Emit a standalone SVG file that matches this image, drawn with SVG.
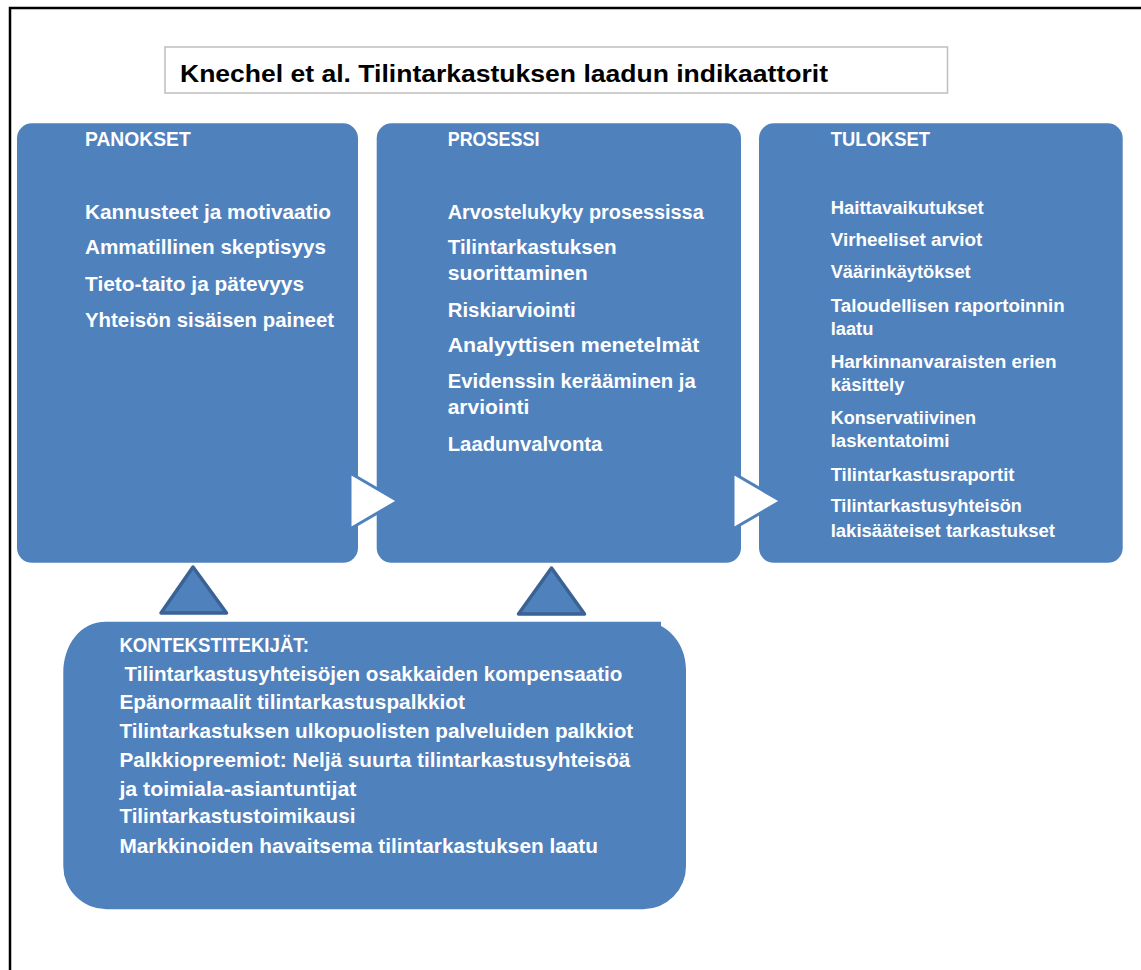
<svg xmlns="http://www.w3.org/2000/svg" width="1141" height="970" viewBox="0 0 1141 970">
<style>
.box{fill:#4f81bd;}
.t{font-family:"Liberation Sans",Arial,sans-serif;font-weight:bold;fill:#ffffff;font-size:20px;}
.s{font-size:18px;}
.k{font-size:21px;}
.title{font-family:"Liberation Sans",Arial,sans-serif;font-weight:bold;fill:#000000;font-size:23px;}
.rarr{fill:#ffffff;stroke:#4f81bd;stroke-width:3;}
.uarr{fill:#4f81bd;stroke:#3b6294;stroke-width:3.5;stroke-linejoin:round;}
</style>
<rect x="0" y="0" width="1141" height="970" fill="#ffffff"/>
<rect x="10" y="8" width="1200" height="1000" fill="none" stroke="#000000" stroke-width="2.5"/>
<g id="title">
<rect x="165" y="47" width="782.5" height="46" fill="#ffffff" stroke="#bfbfbf" stroke-width="1.5"/>
<text class="title" x="180" y="82" textLength="648" lengthAdjust="spacingAndGlyphs">Knechel et al. Tilintarkastuksen laadun indikaattorit</text>
</g>
<g id="panokset">
<rect class="box" x="17" y="123.3" width="341" height="439.5" rx="15"/>
<text class="t" x="85" y="145.7" textLength="105.7" lengthAdjust="spacingAndGlyphs">PANOKSET</text>
<text class="t" x="85" y="219" textLength="246" lengthAdjust="spacingAndGlyphs">Kannusteet ja motivaatio</text>
<text class="t" x="85" y="254" textLength="241" lengthAdjust="spacingAndGlyphs">Ammatillinen skeptisyys</text>
<text class="t" x="85" y="291" textLength="219" lengthAdjust="spacingAndGlyphs">Tieto-taito ja pätevyys</text>
<text class="t" x="85" y="326.7" textLength="249" lengthAdjust="spacingAndGlyphs">Yhteisön sisäisen paineet</text>
</g>
<g id="prosessi">
<rect class="box" x="376.7" y="123.3" width="364.3" height="439.5" rx="15"/>
<text class="t" x="447.7" y="145.7" textLength="91.7" lengthAdjust="spacingAndGlyphs">PROSESSI</text>
<text class="t" x="447.7" y="219" textLength="256" lengthAdjust="spacingAndGlyphs">Arvostelukyky prosessissa</text>
<text class="t" x="447.7" y="254" textLength="169" lengthAdjust="spacingAndGlyphs">Tilintarkastuksen</text>
<text class="t" x="447.7" y="280" textLength="140" lengthAdjust="spacingAndGlyphs">suorittaminen</text>
<text class="t" x="447.7" y="316.7" textLength="128" lengthAdjust="spacingAndGlyphs">Riskiarviointi</text>
<text class="t" x="447.7" y="351.7" textLength="251.7" lengthAdjust="spacingAndGlyphs">Analyyttisen menetelmät</text>
<text class="t" x="447.7" y="388.3" textLength="248" lengthAdjust="spacingAndGlyphs">Evidenssin kerääminen ja</text>
<text class="t" x="447.7" y="414.3" textLength="81.7" lengthAdjust="spacingAndGlyphs">arviointi</text>
<text class="t" x="447.7" y="450.7" textLength="154.7" lengthAdjust="spacingAndGlyphs">Laadunvalvonta</text>
</g>
<g id="tulokset">
<rect class="box" x="759" y="123.3" width="363.7" height="439.5" rx="15"/>
<text class="t" x="830.7" y="145.7" textLength="99.3" lengthAdjust="spacingAndGlyphs">TULOKSET</text>
<text class="t s" x="830.7" y="214" textLength="153" lengthAdjust="spacingAndGlyphs">Haittavaikutukset</text>
<text class="t s" x="830.7" y="246" textLength="151.7" lengthAdjust="spacingAndGlyphs">Virheeliset arviot</text>
<text class="t s" x="830.7" y="277.7" textLength="140" lengthAdjust="spacingAndGlyphs">Väärinkäytökset</text>
<text class="t s" x="830.7" y="312" textLength="234" lengthAdjust="spacingAndGlyphs">Taloudellisen  raportoinnin</text>
<text class="t s" x="830.7" y="335" textLength="42.7" lengthAdjust="spacingAndGlyphs">laatu</text>
<text class="t s" x="830.7" y="367.7" textLength="226" lengthAdjust="spacingAndGlyphs">Harkinnanvaraisten  erien</text>
<text class="t s" x="830.7" y="390.7" textLength="73.7" lengthAdjust="spacingAndGlyphs">käsittely</text>
<text class="t s" x="830.7" y="424.3" textLength="145.3" lengthAdjust="spacingAndGlyphs">Konservatiivinen</text>
<text class="t s" x="830.7" y="446.7" textLength="118.7" lengthAdjust="spacingAndGlyphs">laskentatoimi</text>
<text class="t s" x="830.7" y="480.7" textLength="183.7" lengthAdjust="spacingAndGlyphs">Tilintarkastusraportit</text>
<text class="t s" x="830.7" y="512.3" textLength="191" lengthAdjust="spacingAndGlyphs">Tilintarkastusyhteisön</text>
<text class="t s" x="830.7" y="536.7" textLength="224.3" lengthAdjust="spacingAndGlyphs">lakisääteiset  tarkastukset</text>
</g>
<g id="kontekstitekijat">
<path class="box" d="M106 621.7 H661 V626 C676 634 686 650 686 670 V866 A43 43 0 0 1 643 909.3 H106.7 A43.4 43 0 0 1 63.3 866 V673 C63.3 645 80 621.7 106 621.7 Z"/>
<text class="t k" x="119.4" y="651.7" textLength="189.5" lengthAdjust="spacingAndGlyphs">KONTEKSTITEKIJÄT:</text>
<text class="t k" x="124.6" y="680.7" textLength="497.8" lengthAdjust="spacingAndGlyphs">Tilintarkastusyhteisöjen osakkaiden kompensaatio</text>
<text class="t k" x="119.4" y="709.3" textLength="345.6" lengthAdjust="spacingAndGlyphs">Epänormaalit tilintarkastuspalkkiot</text>
<text class="t k" x="119.4" y="738.3" textLength="513.8" lengthAdjust="spacingAndGlyphs">Tilintarkastuksen ulkopuolisten palveluiden palkkiot</text>
<text class="t k" x="119.4" y="767.3" textLength="511" lengthAdjust="spacingAndGlyphs">Palkkiopreemiot: Neljä suurta tilintarkastusyhteisöä</text>
<text class="t k" x="119.4" y="796" textLength="237" lengthAdjust="spacingAndGlyphs">ja toimiala-asiantuntijat</text>
<text class="t k" x="119.4" y="823.3" textLength="236" lengthAdjust="spacingAndGlyphs">Tilintarkastustoimikausi</text>
<text class="t k" x="119.4" y="852.7" textLength="478.6" lengthAdjust="spacingAndGlyphs">Markkinoiden havaitsema tilintarkastuksen laatu</text>
</g>
<g id="connectors">
<polygon class="rarr" points="350,473 398,501 350,529"/>
<polygon class="rarr" points="733,473 781,501 733,529"/>
<polygon class="uarr" points="193,567 226.5,613 161,613"/>
<polygon class="uarr" points="551.5,568 584.5,614 518.5,614"/>
</g>
</svg>
